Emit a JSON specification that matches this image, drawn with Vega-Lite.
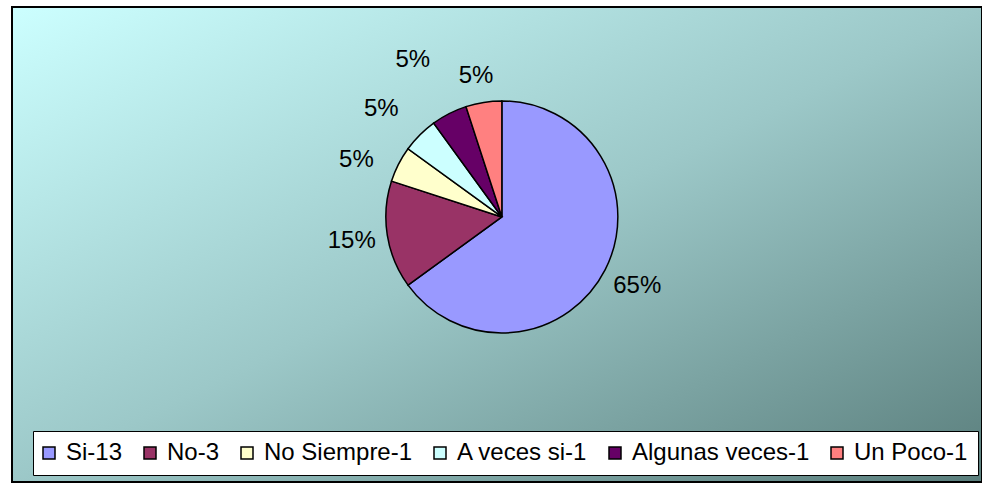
{
  "$schema": "https://vega.github.io/schema/vega-lite/v6.json",
  "autosize": {"type": "fit", "contains": "padding"},
  "width": 982,
  "height": 484,
  "padding": {"left": 12, "top": 7, "right": 0, "bottom": 2},
  "background": "white",
  "config": {
    "view": {
      "fill": {"gradient": "linear", "x1": 0, "y1": 0, "x2": 1, "y2": 1,
        "stops": [{"offset": 0, "color": "#ccffff"}, {"offset": 0.5, "color": "#9cc8c8"}, {"offset": 1, "color": "#5a7e7c"}]},
      "stroke": "#000000",
      "strokeWidth": 2
    },
    "legend": {
      "orient": "none",
      "legendX": 21,
      "legendY": 424,
      "direction": "horizontal",
      "columns": 6,
      "fillColor": "white",
      "strokeColor": "black",
      "padding": 10,
      "symbolType": "square",
      "symbolSize": 144,
      "symbolOffset": -6,
      "symbolStrokeColor": "black",
      "symbolStrokeWidth": 1.5,
      "symbolOpacity": 1,
      "labelFont": "Liberation Sans",
      "labelFontSize": 24,
      "labelColor": "black",
      "labelOffset": 5,
      "labelLimit": 0,
      "columnPadding": 18,
      "title": null
    }
  },
  "data": {
    "values": [
      {"label": "Si-13", "value": 13, "pct": "65%", "order": 1},
      {"label": "No-3", "value": 3, "pct": "15%", "order": 2},
      {"label": "No Siempre-1", "value": 1, "pct": "5%", "order": 3},
      {"label": "A veces si-1", "value": 1, "pct": "5%", "order": 4},
      {"label": "Algunas veces-1", "value": 1, "pct": "5%", "order": 5},
      {"label": "Un Poco-1", "value": 1, "pct": "5%", "order": 6}
    ]
  },
  "transform": [
    {"stack": "value", "sort": [{"field": "order", "order": "ascending"}], "groupby": [], "as": ["v0", "v1"]},
    {"calculate": "(datum.v0 + datum.v1) / 2", "as": "vmid"}
  ],
  "encoding": {
    "x": {"datum": 0.505, "type": "quantitative", "scale": {"domain": [0, 1]}, "axis": null},
    "y": {"datum": 0.558, "type": "quantitative", "scale": {"domain": [0, 1]}, "axis": null}
  },
  "layer": [
    {
      "mark": {"type": "arc", "outerRadius": 116, "stroke": "black", "strokeWidth": 1.5},
      "encoding": {
        "theta": {"field": "v0", "type": "quantitative", "scale": {"domain": [0, 20]}},
        "theta2": {"field": "v1"},
        "color": {
          "field": "label", "type": "nominal",
          "scale": {
            "domain": ["Si-13", "No-3", "No Siempre-1", "A veces si-1", "Algunas veces-1", "Un Poco-1"],
            "range": ["#9999ff", "#993366", "#ffffcc", "#ccffff", "#660066", "#ff8080"]
          }
        }
      }
    },
    {
      "transform": [{"filter": "datum.order <= 2"}],
      "mark": {"type": "text", "radius": 152, "font": "Liberation Sans", "fontSize": 24, "color": "black", "align": "center", "baseline": "middle"},
      "encoding": {"theta": {"field": "vmid", "type": "quantitative", "stack": null, "scale": {"domain": [0, 20]}}, "text": {"field": "pct"}}
    },
    {
      "transform": [{"filter": "datum.order == 3"}],
      "mark": {"type": "text", "radius": 152, "dx": -10, "dy": 12, "font": "Liberation Sans", "fontSize": 24, "color": "black", "align": "center", "baseline": "middle"},
      "encoding": {"theta": {"field": "vmid", "type": "quantitative", "stack": null, "scale": {"domain": [0, 20]}}, "text": {"field": "pct"}}
    },
    {
      "transform": [{"filter": "datum.order == 4"}],
      "mark": {"type": "text", "radius": 152, "dx": -13, "dy": 0, "font": "Liberation Sans", "fontSize": 24, "color": "black", "align": "center", "baseline": "middle"},
      "encoding": {"theta": {"field": "vmid", "type": "quantitative", "stack": null, "scale": {"domain": [0, 20]}}, "text": {"field": "pct"}}
    },
    {
      "transform": [{"filter": "datum.order == 5"}],
      "mark": {"type": "text", "radius": 152, "dx": -20, "dy": -22, "font": "Liberation Sans", "fontSize": 24, "color": "black", "align": "center", "baseline": "middle"},
      "encoding": {"theta": {"field": "vmid", "type": "quantitative", "stack": null, "scale": {"domain": [0, 20]}}, "text": {"field": "pct"}}
    },
    {
      "transform": [{"filter": "datum.order == 6"}],
      "mark": {"type": "text", "radius": 152, "dx": -2, "dy": 9, "font": "Liberation Sans", "fontSize": 24, "color": "black", "align": "center", "baseline": "middle"},
      "encoding": {"theta": {"field": "vmid", "type": "quantitative", "stack": null, "scale": {"domain": [0, 20]}}, "text": {"field": "pct"}}
    }
  ]
}
